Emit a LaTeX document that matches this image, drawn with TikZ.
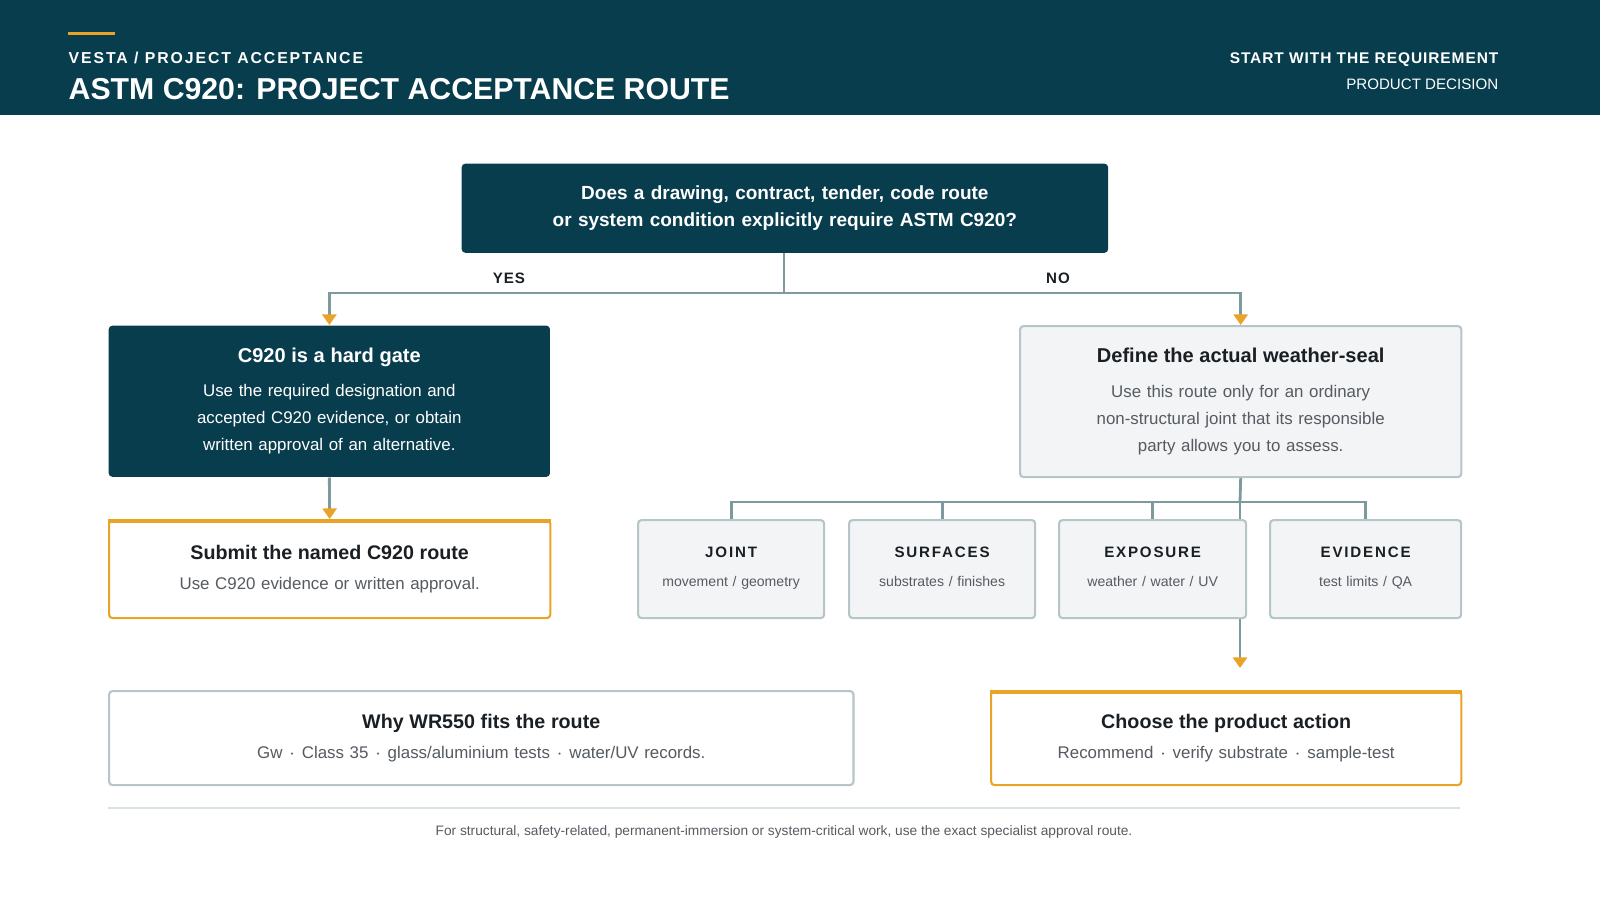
\documentclass[tikz,border=0pt]{standalone}
\usepackage{fontspec}
\setmainfont{Liberation Sans}
\usetikzlibrary{arrows.meta,backgrounds}
\definecolor{teal}{HTML}{083D4D}
\definecolor{gold}{HTML}{E9A428}
\definecolor{wire}{HTML}{7F9A9E}
\definecolor{pale}{HTML}{F3F4F6}
\definecolor{rim}{HTML}{B5C5C8}
\definecolor{ink}{HTML}{1A1F24}
\definecolor{mute}{HTML}{555B61}
\newcommand{\fs}[2]{\fontsize{#1}{#2}\selectfont}
\newcommand{\spaced}{\addfontfeature{LetterSpace=12}}
\tikzset{
  box/.style={anchor=north west, rounded corners=1pt, inner sep=0pt, align=center},
  dark/.style={box, fill=teal, text=white},
  light/.style={box, fill=pale, draw=rim, line width=0.6pt},
  pick/.style={box, fill=white, draw=gold, line width=0.6pt},
  plain/.style={box, fill=white, draw=rim, line width=0.6pt},
  link/.style={draw=wire, line width=0.8pt},
  go/.style={link, -{Triangle[color=gold, length=3pt, width=4pt]}},
  tag/.style={inner sep=0pt, text=white},
}
\begin{document}
\begin{tikzpicture}[x=0.01cm, y=-0.01cm]
% header
\fill[teal] (0,0) rectangle (1600,115);
\fill[gold] (68,32) rectangle (115,35);
\node[tag, anchor=west, font=\fs{4.5}{5}\bfseries\spaced] (kicker) at (68,58) {VESTA / PROJECT ACCEPTANCE};
\node[tag, anchor=west, font=\fs{8.6}{10}\bfseries] (title) at (68,89) {ASTM C920: PROJECT ACCEPTANCE ROUTE};
\node[tag, anchor=east, font=\fs{4.4}{5}\bfseries\addfontfeature{LetterSpace=6}] (start) at (1499,60) {START WITH THE REQUIREMENT};
\node[tag, anchor=east, font=\fs{4.3}{5}] (product) at (1499,84) {PRODUCT DECISION};
% question
\node[dark, text width=6.46cm, minimum height=0.89cm, font=\fs{5.4}{7.8}\bfseries] (ask) at (461,163) {Does a drawing, contract, tender, code route\\or system condition explicitly require ASTM C920?};
% yes side
\node[dark, text width=4.41cm, minimum height=1.51cm, font=\fs{4.8}{7.7}] (gate) at (108,325) {{\fs{5.7}{8}\bfseries C920 is a hard gate}\\[2pt]Use the required designation and\\accepted C920 evidence, or obtain\\written approval of an alternative.};
\node[pick, text width=4.41cm, minimum height=0.98cm, font=\fs{4.8}{8.5}, text=mute] (submit) at (108,519) {{\fs{5.6}{8}\bfseries\color{ink}Submit the named C920 route}\\Use C920 evidence or written approval.};
\draw[gold, line width=1.2pt] ([yshift=-0.5pt]submit.north west) -- ([yshift=-0.5pt]submit.north east);
% no side
\node[light, text width=4.41cm, minimum height=1.51cm, font=\fs{4.8}{7.7}, text=mute] (seal) at (1019,325) {{\fs{5.7}{8}\bfseries\color{ink}Define the actual weather-seal}\\[2pt]Use this route only for an ordinary\\non-structural joint that its responsible\\party allows you to assess.};
\node[light, text width=1.86cm, minimum height=0.98cm, font=\fs{4}{8.5}, text=mute] (joint) at (637,519) {{\fs{4.3}{6}\bfseries\spaced\color{ink}JOINT\strut}\\movement / geometry\strut};
\node[light, text width=1.86cm, minimum height=0.98cm, font=\fs{4}{8.5}, text=mute] (surf) at (848,519) {{\fs{4.3}{6}\bfseries\spaced\color{ink}SURFACES\strut}\\substrates / finishes\strut};
\node[light, text width=1.87cm, minimum height=0.98cm, font=\fs{4}{8.5}, text=mute] (expo) at (1058,519) {{\fs{4.3}{6}\bfseries\spaced\color{ink}EXPOSURE\strut}\\weather / water / UV\strut};
\node[light, text width=1.91cm, minimum height=0.98cm, font=\fs{4}{8.5}, text=mute] (evid) at (1269,519) {{\fs{4.3}{6}\bfseries\spaced\color{ink}EVIDENCE\strut}\\test limits / QA\strut};
% bottom row
\node[plain, text width=7.44cm, minimum height=0.94cm, font=\fs{4.8}{8.5}, text=mute] (why) at (108,690) {{\fs{5.6}{8}\bfseries\color{ink}Why WR550 fits the route}\\Gw $\cdot$ Class 35 $\cdot$ glass/aluminium tests $\cdot$ water/UV records.};
\node[pick, text width=4.70cm, minimum height=0.94cm, font=\fs{4.8}{8.5}, text=mute] (choose) at (990,690) {{\fs{5.6}{8}\bfseries\color{ink}Choose the product action}\\Recommend $\cdot$ verify substrate $\cdot$ sample-test};
\draw[gold, line width=1.2pt] ([yshift=-0.5pt]choose.north west) -- ([yshift=-0.5pt]choose.north east);
% connectors
\coordinate (fork) at (784,293);
\coordinate (split) at (1240,502);
\coordinate (drop) at (1240,668);
\draw[link] (ask.south -| fork) -- (fork);
\draw[go] (fork) -| (gate.north);
\draw[go] (fork) -| (seal.north);
\node[font=\fs{4.3}{5}\bfseries\addfontfeature{LetterSpace=6}, text=ink] (yes) at (509,278) {YES};
\node[font=\fs{4.3}{5}\bfseries\addfontfeature{LetterSpace=6}, text=ink] (no) at (1058,278) {NO};
\draw[go] (gate.south) -- (submit.north);
\draw[link] (seal.south) -- (split);
\draw[link] (split) -| (joint.north);
\draw[link] (split) -| (surf.north);
\draw[link] (split) -| (expo.north);
\draw[link] (split) -| (evid.north);
\begin{scope}[on background layer]
\draw[go] (split) -- (drop);
\end{scope}
% footer
\draw[rim!50, line width=0.4pt] (108,808) -- (1460,808);
\node[font=\fs{3.9}{5}, text=mute] (foot) at (784,832) {For structural, safety-related, permanent-immersion or system-critical work, use the exact specialist approval route.};
\pgfresetboundingbox
\useasboundingbox (0,0) rectangle (1600,900);
\end{tikzpicture}
\end{document}
